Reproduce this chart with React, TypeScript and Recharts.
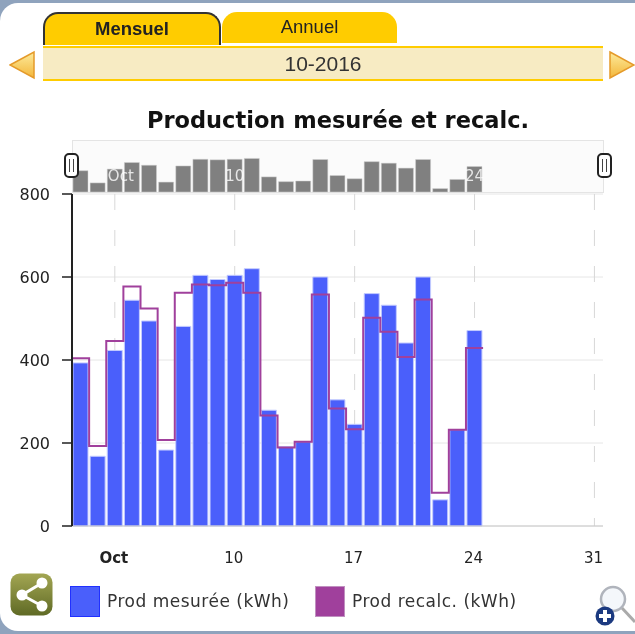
import React from "react";
import { ComposedChart, Bar, Line, XAxis, YAxis, CartesianGrid } from "recharts";

const days = [1,2,3,4,5,6,7,8,9,10,11,12,13,14,15,16,17,18,19,20,21,22,23,24];
const prodMesuree = [393,168,423,544,494,183,481,604,594,604,620,279,191,203,600,304,245,560,532,441,600,63,232,471];
const prodRecalc = [404,193,446,577,524,207,562,582,580,586,562,266,189,203,558,283,233,502,468,407,546,80,232,429];
const xTicks = [3,10,17,24,31];
const xTickLabels = ["Oct","10","17","24","31"];
const miniTicks = [3,10,24];
const yTicks = [0,200,400,600,800];
const seriesNames = ["Prod mesurée (kWh)", "Prod recalc. (kWh)"];
const seriesColors = ["#4a5ffb", "#a0409c"];

const barRows = days.map((d, i) => ({ day: d, mesure: prodMesuree[i] }));
const stepRows = [
  ...days.map((d, i) => ({ day: d - 0.5, recalc: prodRecalc[i] })),
  { day: days[days.length - 1] + 0.5, recalc: prodRecalc[prodRecalc.length - 1] },
];

const labelFor = (v: number) => xTickLabels[xTicks.indexOf(v)];
const FONT = "'DejaVu Sans', sans-serif";

const MainTick = (p: any) => {
  const v = p.payload.value;
  return (
    <text x={p.x - 1} y={p.y + 29} textAnchor="middle" fontFamily={FONT} fontSize={15}
      fontWeight={v === 3 ? 700 : 400} fill="#222">{labelFor(v)}</text>
  );
};
const MiniTick = (p: any) => {
  const v = p.payload.value;
  return (
    <text x={p.x + (v === 3 ? 6 : 0)} y={p.y - 14} dy={-6} textAnchor="middle" fontFamily={FONT} fontSize={15}
      fill="#fff" fillOpacity={0.8}>{labelFor(v)}</text>
  );
};

const Handle = ({ left }: { left: number }) => (
  <div style={{ position: "absolute", left, top: 153, width: 11, height: 21, border: "2px solid #222", borderRadius: 5, background: "#fff" }}>
    <div style={{ position: "absolute", left: 2.5, top: 4, width: 1.5, height: 13, background: "#444" }} />
    <div style={{ position: "absolute", left: 6.5, top: 4, width: 1.5, height: 13, background: "#444" }} />
  </div>
);

const Tab = ({ left, width, height, active, label, cy }: any) => (
  <div style={{
    position: "absolute", left, top: 12, width, height, boxSizing: "border-box", background: "#ffcc00",
    borderRadius: "15px 15px 0 0", border: active ? "2px solid #333" : "none", borderBottom: "none",
    textAlign: "center", fontFamily: "'Liberation Sans', sans-serif", fontSize: 18.5, fontWeight: active ? 700 : 400,
    color: "#222", lineHeight: `${cy}px`,
  }}>{label}</div>
);

const Arrow = ({ left, dir }: { left: number; dir: "l" | "r" }) => (
  <svg style={{ position: "absolute", left, top: 50 }} width={27} height={30}>
    <defs>
      <linearGradient id={"ag" + dir} x1="0" y1="0" x2="0" y2="1">
        <stop offset="0" stopColor="#fdeb9c" />
        <stop offset="1" stopColor="#f3b63a" />
      </linearGradient>
    </defs>
    <polygon points={dir === "l" ? "1,15 25,2 25,28" : "2,2 26,15 2,28"} fill={"url(#ag" + dir + ")"} stroke="#e59a2a" strokeWidth={1.5} />
  </svg>
);

export default function App() {
  return (
    <div style={{ position: "fixed", left: 0, top: 0, width: 635, height: 634, background: "#8fa3bd", overflow: "hidden", filter: "blur(0.45px)" }}>
      <div style={{ position: "absolute", left: 0, top: 3, width: 640, height: 628, background: "#fff", borderRadius: "18px 6px 6px 18px" }} />

      <Tab left={43} width={178} height={33} active label="Mensuel" cy={30} />
      <Tab left={222} width={175} height={31} label="Annuel" cy={30} />
      <div style={{
        position: "absolute", left: 43, top: 46, width: 560, height: 31, background: "#f7ebc3",
        borderTop: "2px solid #ffcc00", borderBottom: "2px solid #ffcc00", textAlign: "center",
        fontFamily: "'Liberation Sans', sans-serif", fontSize: 21, lineHeight: "31px", color: "#333",
      }}>10-2016</div>
      <Arrow left={9} dir="l" />
      <Arrow left={608} dir="r" />

      <div style={{ position: "absolute", left: 72, top: 106, width: 532, textAlign: "center", fontFamily: FONT, fontWeight: 700, fontSize: 22.5, lineHeight: "28px", color: "#111", whiteSpace: "nowrap" }}>
        Production mesurée et recalc.
      </div>

      <div style={{ position: "absolute", left: 72, top: 140, width: 532, height: 53, background: "#fbfbfb", border: "1px solid #e4e4e4", boxSizing: "border-box" }} />

      <div style={{ position: "absolute", left: 0, top: 0 }}>
        <ComposedChart width={635} height={634} data={barRows} margin={{ top: 194, right: 32, bottom: 68, left: 0 }}>
          <CartesianGrid horizontal vertical={false} stroke="#e6e6e6" />
          <CartesianGrid horizontal={false} vertical syncWithTicks stroke="#d8d8d8" strokeDasharray="16 20" />
          <XAxis dataKey="day" type="number" domain={[0.5, 31.5]} ticks={xTicks} height={40} interval={0}
            tick={MainTick} tickLine={false} axisLine={{ stroke: "#c8c8c8" }} />
          <XAxis xAxisId="step" dataKey="day" type="number" domain={[0.5, 31.5]} hide />
          <YAxis type="number" domain={[0, 800]} ticks={yTicks} width={72} interval={0}
            tick={{ fontFamily: FONT, fontSize: 16, fill: "#222" }} tickSize={10} tickMargin={12}
            tickLine={{ stroke: "#222", strokeWidth: 1.5 }} axisLine={{ stroke: "#222", strokeWidth: 2 }} />
          <Bar dataKey="mesure" barSize={15} fill={seriesColors[0]} stroke="#c3cbff" strokeWidth={1} isAnimationActive={false} />
          <Line xAxisId="step" data={stepRows} dataKey="recalc" type="stepAfter" stroke={seriesColors[1]} strokeWidth={2} dot={false} activeDot={false} isAnimationActive={false} />
        </ComposedChart>
      </div>

      <div style={{ position: "absolute", left: 0, top: 0, pointerEvents: "none" }}>
        <ComposedChart width={635} height={193} data={barRows} margin={{ top: 140, right: 32, bottom: 0, left: 72 }}>
          <CartesianGrid horizontal={false} vertical syncWithTicks stroke="#e2e2e2" />
          <XAxis dataKey="day" type="number" domain={[0.5, 31.5]} ticks={xTicks} height={1} interval={0} axisLine={false} tickLine={false} tick={false} />
          <YAxis type="number" domain={[0, 960]} hide />
          <Bar dataKey="mesure" barSize={15} fill="#808080" stroke="#d0d0d0" strokeWidth={0.5} isAnimationActive={false} />
        </ComposedChart>
      </div>

      <div style={{ position: "absolute", left: 0, top: 0, pointerEvents: "none" }}>
        <ComposedChart width={635} height={194} data={barRows} margin={{ top: 140, right: 32, bottom: 0, left: 72 }}>
          <XAxis dataKey="day" type="number" domain={[0.5, 31.5]} ticks={miniTicks} height={1} interval={0} axisLine={false} tickLine={false} tick={MiniTick} />
          <YAxis type="number" domain={[0, 960]} hide />
        </ComposedChart>
      </div>

      <Handle left={64} />
      <Handle left={597} />

      <svg style={{ position: "absolute", left: 10, top: 573 }} width={43} height={43}>
        <defs>
          <linearGradient id="sg" x1="0" y1="0" x2="0" y2="1">
            <stop offset="0" stopColor="#a3a653" />
            <stop offset="1" stopColor="#5f6a25" />
          </linearGradient>
        </defs>
        <rect x={0.5} y={0.5} width={42} height={42} rx={9} fill="url(#sg)" />
        <polyline points="32,10 12,22 32,33" fill="none" stroke="#fff" strokeWidth={3} />
        <circle cx={32} cy={10} r={5.5} fill="#fff" />
        <circle cx={12} cy={22} r={5.5} fill="#fff" />
        <circle cx={32} cy={33} r={5.5} fill="#fff" />
      </svg>

      {seriesNames.map((n, i) => (
        <div key={n}>
          <div style={{ position: "absolute", left: i === 0 ? 70 : 315, top: 586, width: 30, height: 31, boxSizing: "border-box", background: seriesColors[i], border: i === 0 ? "1.5px solid #2030ff" : "1px solid #c090c0" }} />
          <div style={{ position: "absolute", left: i === 0 ? 107 : 352, top: 590, fontFamily: FONT, fontSize: 17, letterSpacing: 0.5, lineHeight: "22px", color: "#333", whiteSpace: "nowrap" }}>{n}</div>
        </div>
      ))}

      <svg style={{ position: "absolute", left: 595, top: 584 }} width={40} height={45}>
        <line x1={27} y1={24} x2={40} y2={38} stroke="#aaa" strokeWidth={3} />
        <circle cx={18} cy={15} r={12} fill="#f4f7fb" stroke="#b0b4bc" strokeWidth={2.5} />
        <circle cx={10} cy={32} r={9.5} fill="#1c3a80" />
        <rect x={4} y={30} width={12} height={4} fill="#fff" />
        <rect x={8} y={26} width={4} height={12} fill="#fff" />
      </svg>
    </div>
  );
}
